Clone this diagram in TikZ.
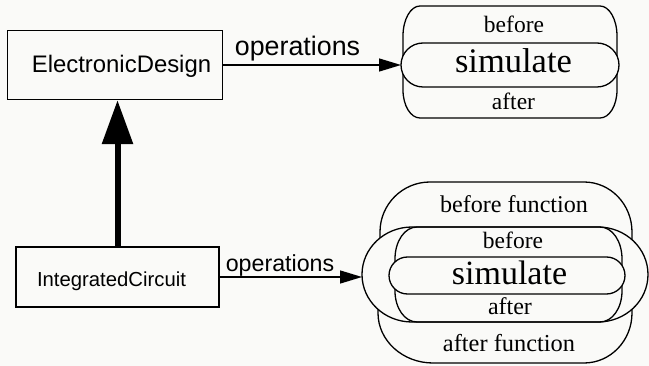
\documentclass[tikz,border=0pt]{standalone}
\usepackage{fontspec}
\setmainfont{Liberation Serif}
\setsansfont{Liberation Sans}
\usetikzlibrary{arrows.meta}
\definecolor{paper}{RGB}{250,250,248}
\begin{document}
\begin{tikzpicture}[x=1pt,y=-1pt,
  outline/.style={draw=black,line width=1.3pt},
  classbox/.style={draw=black,line width=1.4pt,inner sep=0pt,fill=paper,text depth=0pt},
  rmtext/.style={font=\rmfamily\fontsize{#1}{#1}\selectfont,inner sep=0pt,anchor=base},
  sftext/.style={font=\sffamily\fontsize{#1}{#1}\selectfont,inner sep=0pt,anchor=base},
  opsarrow/.style={line width=1.4pt,-{Triangle[length=22pt,width=13pt]}},
  inherit/.style={line width=6pt,-{Triangle[length=44pt,width=30pt]}}]

\fill[paper] (0,0) rectangle (649,366);
\useasboundingbox (0,0) rectangle (649,366);

% classes
\node[classbox,minimum width=215pt,minimum height=69pt,
      font=\sffamily\fontsize{23.9}{24}\selectfont,text height=16pt]
  (ed) at (115,65) {\hspace*{13pt}ElectronicDesign};
\node[classbox,minimum width=203pt,minimum height=60pt,
      font=\sffamily\fontsize{20.3}{21}\selectfont,text height=18.4pt]
  (ic) at (117.5,277) {IntegratedCircuit\hspace*{12pt}};

% ---- simulate with before/after wrappers
\draw[outline] (403,62) -- (403,36) .. controls (403,19.4) and (410.6,6) .. (420,6)
  -- (600,6) .. controls (609.4,6) and (617,19.4) .. (617,36) -- (617,62);
\draw[outline] (403,68) -- (403,90) .. controls (403,105.5) and (410.6,118) .. (420,118)
  -- (600,118) .. controls (609.4,118) and (617,105.5) .. (617,90) -- (617,68);
\draw[outline,fill=paper] (423,43) -- (597,43) arc[start angle=-90,end angle=90,radius=22]
  -- (423,87) arc[start angle=90,end angle=270,radius=22] -- cycle;
\coordinate (simA) at (401,65);

\node[rmtext=23.5] (bef1) at (514,33) {before};
\node[rmtext=34.5] (sim1) at (513.5,73) {simulate};
\node[rmtext=23.5] (aft1) at (513.5,110) {after};

% ---- simulate with before/after, wrapped by function wrappers
\draw[outline] (380,290) -- (380,232) .. controls (380,204.4) and (402.4,182) .. (430,182)
  -- (584,182) .. controls (610.5,182) and (632,204.4) .. (632,232) -- (632,290);
\draw[outline] (378,260) -- (378,313) .. controls (378,340.6) and (402.6,363) .. (433,363)
  -- (584,363) .. controls (610.5,363) and (632,340.6) .. (632,313) -- (632,260);
\draw[outline,fill=paper] (412,227) -- (598,227)
  arc[start angle=-90,end angle=90,x radius=50,y radius=47.5]
  -- (412,322) arc[start angle=90,end angle=270,x radius=50,y radius=47.5] -- cycle;
\coordinate (bigA) at (362,274.5);

\draw[outline] (395,272) -- (395,259) .. controls (395,241.0) and (404.8,227) .. (417,227)
  -- (600,227) .. controls (612.2,227) and (622,241.0) .. (622,259) -- (622,272);
\draw[outline] (395,279) -- (395,291) .. controls (395,308.3) and (404.8,322) .. (417,322)
  -- (600,322) .. controls (612.2,322) and (622,308.3) .. (622,291) -- (622,279);
\draw[outline,fill=paper] (407.5,257) -- (606.5,257) arc[start angle=-90,end angle=90,radius=18.5]
  -- (407.5,294) arc[start angle=90,end angle=270,radius=18.5] -- cycle;

\node[rmtext=24.1] (beff) at (514,213) {before function};
\node[rmtext=23.5] (bef2) at (513,249) {before};
\node[rmtext=34] (sim2) at (509.5,285) {simulate};
\node[rmtext=24] (aft2) at (510,315) {after};
\node[rmtext=24.4] (aftf) at (509,352) {after function};

% ---- connectors
\draw[inherit] (ic.north) -- (ic.north |- ed.south);
\draw[opsarrow] (ed.east) -- (simA);
\node[sftext=26.8] (op1) at (297.5,55.5) {operations};
\draw[opsarrow] (ic.east) -- (ic.east -| bigA);
\node[sftext=23.2] (op2) at (280,271.5) {operations};
\end{tikzpicture}
\end{document}
